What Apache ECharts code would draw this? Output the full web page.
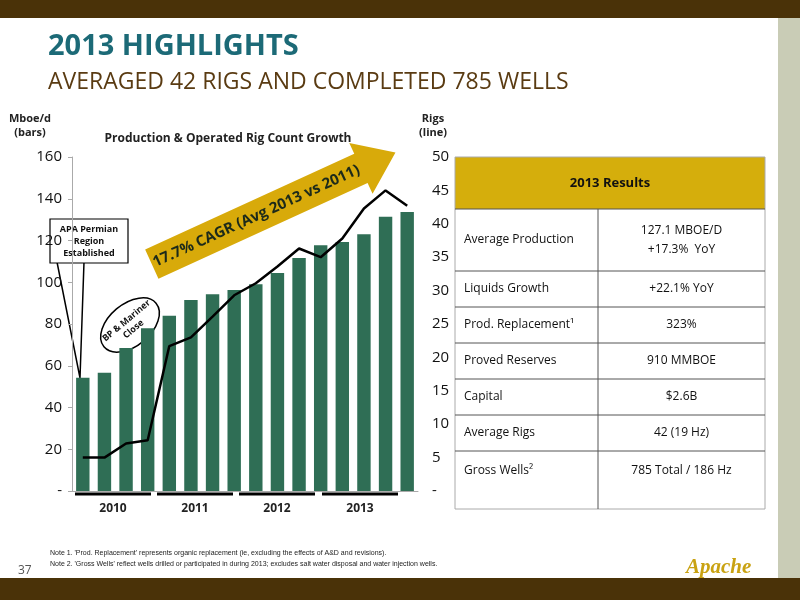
<!DOCTYPE html><html><head><meta charset="utf-8"><script src="https://cdn.jsdelivr.net/npm/echarts@6/dist/echarts.min.js"></script>
<style>body{margin:0}#c{width:800px;height:600px}</style></head><body><div id="c"></div><script>
const categories=['Q1-10','Q2-10','Q3-10','Q4-10','Q1-11','Q2-11','Q3-11','Q4-11','Q1-12','Q2-12','Q3-12','Q4-12','Q1-13','Q2-13','Q3-13','Q4-13'];
const production=[54.3,56.7,68.5,78,84,91.5,94.2,96.3,99,104.4,111.6,117.7,119.3,123,131.4,133.6];
const rigs=[5,5,7.1,7.6,21.7,23,26.1,29.3,31.1,33.6,36.3,35,37.8,42.3,45,42.7];
const years=['2010','2011','2012','2013'];
const tableRows=[['Average Production','127.1 MBOE/D\n+17.3%  YoY'],['Liquids Growth','+22.1% YoY'],['Prod. Replacement¹','323%'],['Proved Reserves','910 MMBOE'],['Capital','$2.6B'],['Average Rigs','42 (19 Hz)'],['Gross Wells²','785 Total / 186 Hz']];
const F='"Open Sans", "DejaVu Sans", sans-serif';
const ch=echarts.init(document.getElementById('c'));
const g=[];
g.push({type:'rect',shape:{x:0,y:0,width:800,height:18},style:{fill:'#4a3208'}});
g.push({type:'rect',shape:{x:0,y:578,width:800,height:22},style:{fill:'#4a3208'}});
g.push({type:'rect',shape:{x:778,y:18,width:22,height:560},style:{fill:'#c9ccb6'}});
g.push({type:'text',x:48,y:32,style:{text:'2013 HIGHLIGHTS',font:'bold 29px '+F,fill:'#1c6a77'}});
g.push({type:'text',x:48,y:71,style:{text:'AVERAGED 42 RIGS AND COMPLETED 785 WELLS',font:'23px '+F,fill:'#5a3b12'}});
g.push({type:'text',x:30,y:112,style:{text:'Mboe/d\n(bars)',font:'bold 11px '+F,fill:'#222',align:'center',lineHeight:14}});
g.push({type:'text',x:433,y:112,style:{text:'Rigs\n(line)',font:'bold 11px '+F,fill:'#222',align:'center',lineHeight:14}});
g.push({type:'text',x:228,y:133,style:{text:'Production & Operated Rig Count Growth',font:'bold 12px '+F,fill:'#222',align:'center'}});
const yx=[113,195,277,360];
years.forEach((y,i)=>{g.push({type:'line',shape:{x1:yx[i]-38,y1:494,x2:yx[i]+38,y2:494},style:{stroke:'#000',lineWidth:3}});
g.push({type:'text',x:yx[i],y:503,style:{text:y,font:'bold 12px '+F,fill:'#222',align:'center'}});});
g.push({type:'group',x:270,y:210,rotation:24.6*Math.PI/180,children:[
{type:'polygon',shape:{points:[[-130,-16],[100,-16],[100,-28],[138,0],[100,28],[100,16],[-130,16]]},style:{fill:'#d8aa0a'}},
{type:'text',x:-15,y:0,style:{text:'17.7% CAGR (Avg 2013 vs 2011)',font:'bold 15px '+F,fill:'#1c2a1a',align:'center',verticalAlign:'middle'}}]});
g.push({type:'group',x:130,y:325,rotation:40*Math.PI/180,children:[
{type:'ellipse',shape:{cx:0,cy:0,rx:34,ry:21},style:{fill:'rgba(255,255,255,0.85)',stroke:'#000',lineWidth:1.5}},
{type:'text',x:0,y:0,style:{text:'BP & Mariner\nClose',font:'bold 9px '+F,fill:'#111',align:'center',verticalAlign:'middle',lineHeight:11}}]});
g.push({type:'polyline',shape:{points:[[57,262],[80,378],[84,262]]},style:{stroke:'#000',lineWidth:1.5,fill:null}});
g.push({type:'rect',shape:{x:50,y:219,width:78,height:44},style:{fill:'#fff',stroke:'#000',lineWidth:1.2}});
g.push({type:'text',x:89,y:241,style:{text:'APA Permian\nRegion\nEstablished',font:'bold 9px '+F,fill:'#111',align:'center',verticalAlign:'middle',lineHeight:12}});
const tx=455,tw=310,tc=598;
g.push({type:'rect',shape:{x:tx,y:157,width:tw,height:52},style:{fill:'#d5ae0c'}});
g.push({type:'text',x:tx+tw/2,y:183,style:{text:'2013 Results',font:'bold 13px '+F,fill:'#111',align:'center',verticalAlign:'middle'}});
const rh=[62,36,36,36,36,36,40];let yy=209;
g.push({type:'rect',shape:{x:tx,y:157,width:tw,height:352},style:{fill:'none',stroke:'#aaa',lineWidth:1}});
tableRows.forEach((r,i)=>{g.push({type:'line',shape:{x1:tx,y1:yy,x2:tx+tw,y2:yy},style:{stroke:'#555',lineWidth:1}});
g.push({type:'text',x:tx+9,y:yy+rh[i]/2,style:{text:r[0],font:'12px '+F,fill:'#111',verticalAlign:'middle'}});
g.push({type:'text',x:(tc+tx+tw)/2,y:yy+rh[i]/2,style:{text:r[1],font:'12px '+F,fill:'#111',align:'center',verticalAlign:'middle',lineHeight:19}});
yy+=rh[i];});
g.push({type:'line',shape:{x1:tc,y1:209,x2:tc,y2:509},style:{stroke:'#555',lineWidth:1}});
g.push({type:'text',x:18,y:565,style:{text:'37',font:'12px '+F,fill:'#555'}});
g.push({type:'text',x:50,y:548,style:{text:"Note 1. 'Prod. Replacement' represents organic replacement (ie, excluding the effects of A&D and revisions).\nNote 2. 'Gross Wells' reflect wells drilled or participated in during 2013; excludes salt water disposal and water injection wells.",font:'7px "Liberation Sans Narrow", sans-serif',fill:'#222',lineHeight:11}});
g.push({type:'text',x:686,y:557,style:{text:'Apache',font:'italic bold 21px "Liberation Serif", serif',fill:'#c9a212'}});
ch.setOption({animation:false,backgroundColor:'#fff',
grid:{left:72,right:382,top:157,bottom:109},
xAxis:{type:'category',data:categories,axisLabel:{show:false},axisTick:{show:false},axisLine:{lineStyle:{color:'#aaa'}}},
yAxis:[{type:'value',min:0,max:160,interval:20,axisLine:{show:true,lineStyle:{color:'#aaa'}},axisTick:{show:true,length:4},splitLine:{show:false},
axisLabel:{color:'#111',fontSize:15,fontFamily:F,margin:10,formatter:v=>v===0?'-':v}},
{type:'value',min:0,max:50,interval:5,axisLine:{show:false},axisTick:{show:false},splitLine:{show:false},
axisLabel:{color:'#111',fontSize:15,fontFamily:F,margin:14,formatter:v=>v===0?'-':v}}],
series:[{type:'bar',data:production,barWidth:'62%',itemStyle:{color:'#2f6e55'},z:2},
{type:'line',yAxisIndex:1,data:rigs,symbol:'none',lineStyle:{color:'#000',width:2.5},z:3}],
graphic:g});
</script></body></html>
